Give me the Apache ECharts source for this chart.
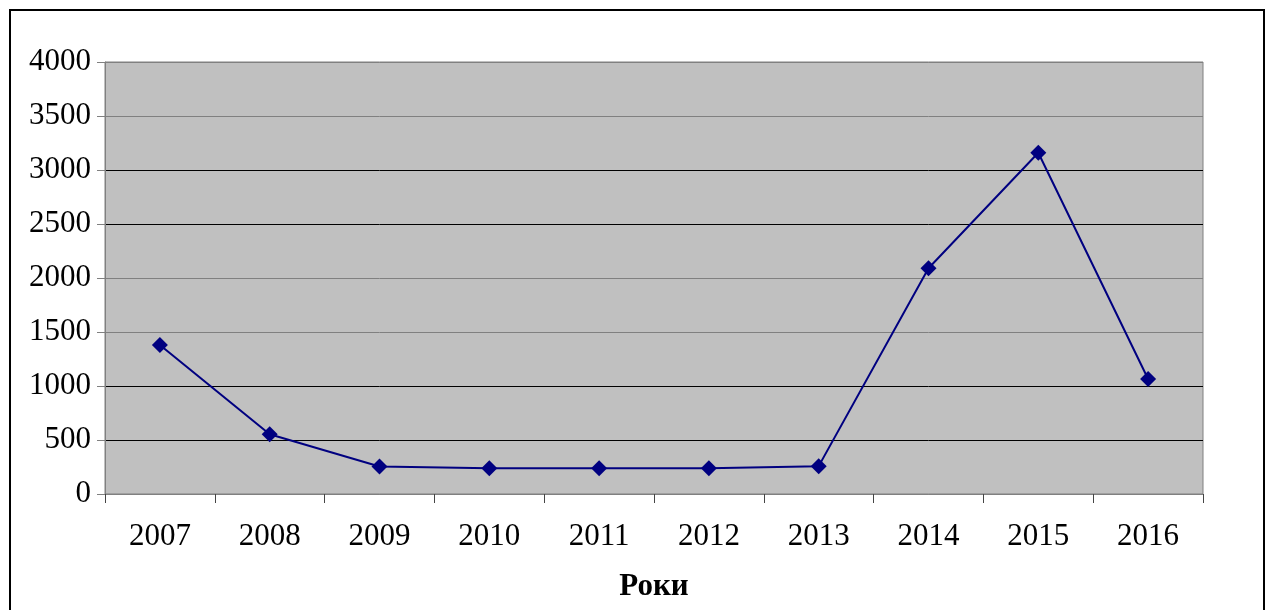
<!DOCTYPE html>
<html>
<head>
<meta charset="utf-8">
<script src="https://cdn.jsdelivr.net/npm/echarts@6/dist/echarts.min.js"></script>
<style>
  html, body { margin: 0; padding: 0; background: #fff; }
  #chart { width: 1266px; height: 610px; }
</style>
</head>
<body>
<div id="chart"></div>
<script>
// роки
const years = ['2007', '2008', '2009', '2010', '2011', '2012', '2013', '2014', '2015', '2016']
// значення
const values = [1380, 553, 255, 238, 238, 238, 258, 2090, 3160, 1065]
const yTicks = [0, 500, 1000, 1500, 2000, 2500, 3000, 3500, 4000]

const GRAY = '#808080'
const BLACK = '#000000'
// gridlines in the picture alternate gray / black
const gridColors = [GRAY, BLACK, BLACK, GRAY, GRAY, BLACK, BLACK, GRAY, GRAY]

const font = "'Times New Roman', 'Liberation Serif', serif"

const chart = echarts.init(document.getElementById('chart'))
chart.setOption({
  animation: false,
  backgroundColor: '#fff',
  graphic: [
    {
      type: 'rect',
      shape: { x: 10, y: 10, width: 1254, height: 610 },
      style: { fill: null, stroke: '#000', lineWidth: 2 },
      z: 100,
    },
  ],
  grid: {
    left: 105,
    top: 62,
    right: 63,
    bottom: 116,
    show: true,
    backgroundColor: '#c0c0c0',
    borderColor: GRAY,
    borderWidth: 1,
  },
  xAxis: {
    type: 'category',
    data: years,
    boundaryGap: true,
    name: 'Роки',
    nameLocation: 'middle',
    nameGap: 77,
    nameTextStyle: { fontFamily: font, fontSize: 31, fontWeight: 'bold', color: '#000' },
    axisLine: { lineStyle: { color: GRAY, width: 1 } },
    axisTick: { show: true, length: 9, inside: false, alignWithLabel: false, lineStyle: { color: '#444' } },
    axisLabel: { fontFamily: font, fontSize: 31, color: '#000', margin: 27, interval: 0 },
    splitLine: { show: false },
  },
  yAxis: {
    type: 'value',
    min: yTicks[0],
    max: yTicks[yTicks.length - 1],
    interval: 500,
    axisLine: { show: true, lineStyle: { color: GRAY, width: 1 } },
    axisTick: { show: true, length: 8, lineStyle: { color: GRAY } },
    axisLabel: { fontFamily: font, fontSize: 31, color: '#000', margin: 14, formatter: v => String(v) },
    splitLine: { show: true, lineStyle: { color: gridColors, width: 1 } },
  },
  series: [
    {
      type: 'line',
      data: values,
      symbol: 'diamond',
      symbolSize: 16,
      lineStyle: { color: '#000080', width: 2 },
      itemStyle: { color: '#000080' },
    },
  ],
})
</script>
</body>
</html>
